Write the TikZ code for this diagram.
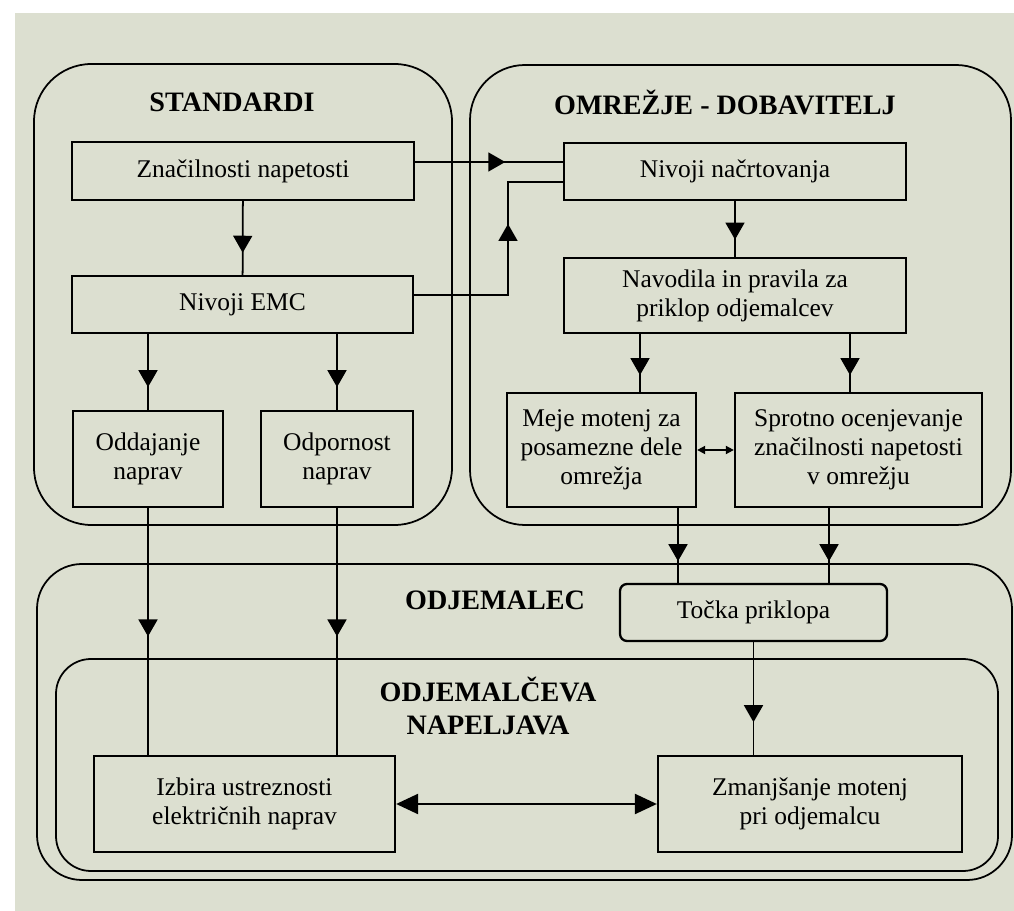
\documentclass[tikz,border=0pt]{standalone}
\usepackage{fontspec}
\setmainfont{Liberation Serif}
\usepackage{tikz}
\usetikzlibrary{arrows.meta,decorations.markings}
\definecolor{papir}{RGB}{220,223,208}
\newcommand{\blok}[7][]{\node[blok, #1, minimum width={(#5-#3)*0.02cm}, minimum height={(#6-#4)*0.02cm}] (#2) at ({(#3+#5)/2},{(#4+#6)/2}) {#7};}
\newcommand{\okvir}[5]{\draw[line width=1pt, rounded corners=#5] (#1,#2) rectangle (#3,#4);}
\tikzset{
  blok/.style={draw, line width=1.3pt, inner sep=0pt, align=center, font=\fontsize{14.5}{16.5}\selectfont},
  naslov/.style={align=center, font=\fontsize{16}{19}\selectfont\bfseries},
  vez/.style={line width=1pt},
  sredina/.style={postaction={decorate}, decoration={markings, mark=at position #1 with {\arrow{Triangle[length=0.34cm,width=0.38cm]}}}},
  mala/.style={arrows={Triangle[length=0.16cm,width=0.16cm]-Triangle[length=0.16cm,width=0.16cm]}},
  velika/.style={line width=1.3pt, arrows={Triangle[length=0.44cm,width=0.4cm]-Triangle[length=0.44cm,width=0.4cm]}}
}
\begin{document}
\begin{tikzpicture}[x=0.02cm, y=-0.02cm]
\useasboundingbox (0,0) rectangle (1014,911);
\fill[white] (0,0) rectangle (1014,911); \fill[papir] (15,13) rectangle (1014,911);
\okvir{34}{64}{452}{525}{1.15cm} \okvir{470}{65}{1011}{525}{1.1cm}
\okvir{37}{564}{1012}{880}{0.9cm} \okvir{56}{659}{998}{871}{0.7cm}
\node[naslov] (tstand) at (232,102) {STANDARDI};
\node[naslov] (tomr) at (725,103) {OMREŽJE - DOBAVITELJ};
\node[naslov] (todj) at (495,600) {ODJEMALEC};
\node[naslov] (tnap) at (488,706) {ODJEMALČEVA\\NAPELJAVA};
\blok{znac}{72}{142}{414}{200}{Značilnosti napetosti}
\blok{emc}{72}{276}{413}{333}{Nivoji EMC}
\blok{oddaj}{73}{411}{223}{507}{Oddajanje\\naprav}
\blok{odpor}{261}{411}{413}{507}{Odpornost\\naprav}
\blok{nacrt}{564}{143}{906}{200}{Nivoji načrtovanja}
\blok{navod}{564}{258}{906}{333}{Navodila in pravila za\\priklop odjemalcev}
\blok{meje}{507}{393}{696}{507}{Meje motenj za\\posamezne dele\\omrežja}
\blok{sprot}{735}{393}{982}{507}{Sprotno ocenjevanje\\značilnosti napetosti\\v omrežju}
\blok[rounded corners=4pt]{tocka}{620}{584}{887}{641}{Točka priklopa}
\blok{izbira}{94}{756}{395}{852}{Izbira ustreznosti\\električnih naprav}
\blok{zmanj}{658}{756}{962}{852}{Zmanjšanje motenj\\pri odjemalcu}
\coordinate (zavoj) at (508,182);
\draw[vez, sredina=0.7] (znac) -- (emc);
\draw[vez, sredina=0.7] (emc.south -| oddaj) -- (oddaj);
\draw[vez, sredina=0.7] (emc.south -| odpor) -- (odpor);
\draw[vez, sredina=0.61] (znac.east |- 0,162) -- (nacrt.west |- 0,162);
\draw[vez, sredina=0.63] (emc.east |- 0,295) -| (zavoj) -- (nacrt.west |- zavoj);
\draw[vez, sredina=0.69] (nacrt) -- (navod);
\draw[vez, sredina=0.71] (navod.south -| 640,0) -- (meje.north -| 640,0);
\draw[vez, sredina=0.71] (navod.south -| 850,0) -- (sprot.north -| 850,0);
\draw[vez, mala] (meje) -- (sprot);
\draw[vez, sredina=0.71] (meje.south -| 678,0) -- (tocka.north -| 678,0);
\draw[vez, sredina=0.71] (sprot.south -| 829,0) -- (tocka.north -| 829,0);
\draw[vez, sredina=0.52] (oddaj) -- (izbira.north -| oddaj);
\draw[vez, sredina=0.52] (odpor) -- (izbira.north -| odpor);
\draw[vez, sredina=0.71] (tocka) -- (zmanj.north -| tocka);
\draw[velika] (izbira) -- (zmanj);
\end{tikzpicture}
\end{document}
